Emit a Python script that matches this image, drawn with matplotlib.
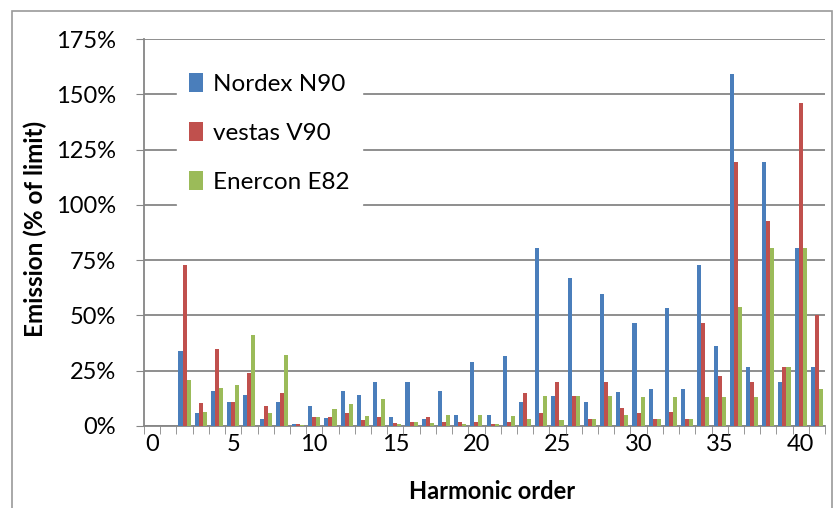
#!/usr/bin/env python3
"""Harmonic emission per turbine type, as % of the limit."""

import matplotlib
matplotlib.use("Agg")
import matplotlib.pyplot as plt
import numpy as np
from matplotlib.patches import Rectangle

plt.rcParams["font.family"] = ["Lato", "DejaVu Sans"]

HARMONICS = list(range(0, 42))
SERIES = ["Nordex N90", "vestas V90", "Enercon E82"]
COLORS = ["#4A7EBB", "#C0504D", "#9BBB59"]

NORDEX = [0, 0, 34, 6, 16, 11, 14, 3, 11, 0.8, 9, 3.5, 16, 14, 20, 4.2, 20, 3, 16, 4.8,
          29, 5, 31.6, 11, 80.5, 13.6, 67, 11, 59.7, 15.3, 46.5, 16.7, 53.5, 16.7, 73, 36,
          159, 26.8, 119.6, 20, 80.5, 26.8]
VESTAS = [0, 0, 73, 10.5, 35, 11, 24, 9, 15, 1, 4.2, 4, 6, 2.7, 4, 1.2, 2, 4, 2, 2,
          2, 1, 2, 15, 6, 20, 13.6, 3.3, 20, 8, 6, 3, 6.5, 3, 46.6, 22.8,
          119.6, 20, 92.9, 26.8, 146, 50]
ENERCON = [0, 0, 21, 6.3, 17, 18.5, 41, 6, 32, 0.5, 4, 7.6, 10, 4.5, 12, 1, 2, 1.5, 5, 1,
           5, 1, 4.6, 3, 13.6, 2.7, 13.6, 3, 13.6, 5, 13.3, 3, 13.3, 3, 13.3, 13.3,
           53.8, 13.3, 80.5, 26.8, 80.5, 16.7]

Y_TICKS = [0, 25, 50, 75, 100, 125, 150, 175]
X_LABELS = [0, 5, 10, 15, 20, 25, 30, 35, 40]

GRID = "#868686"


def main() -> None:
    fig = plt.figure(figsize=(8.37, 5.08), dpi=100)
    ax = fig.add_axes([144 / 837, 82 / 508, 681 / 837, 387 / 508])

    x = np.arange(len(HARMONICS))
    width = 0.25
    for i, (name, vals, color) in enumerate(zip(SERIES, [NORDEX, VESTAS, ENERCON], COLORS)):
        ax.bar(x + (i - 1) * width, vals, width=width, color=color, label=name, zorder=3)

    ax.set_xlim(-0.5, len(HARMONICS) - 0.5)
    ax.set_ylim(0, 175)
    ax.set_yticks(Y_TICKS)
    ax.set_yticklabels([f"{v}%" for v in Y_TICKS])
    ax.set_xticks(X_LABELS)
    ax.set_xticklabels([str(v) for v in X_LABELS])
    ax.set_xticks(np.arange(-0.5, len(HARMONICS)), minor=True)
    ax.tick_params(axis="x", which="major", length=0, pad=6, labelsize=17)
    ax.tick_params(axis="x", which="minor", length=6, color=GRID, direction="out")
    ax.tick_params(axis="y", length=6, color=GRID, labelsize=17, pad=14)

    ax.grid(axis="y", color=GRID, linewidth=1.3, zorder=0)
    for side in ("top", "right"):
        ax.spines[side].set_visible(False)
    for side in ("left", "bottom"):
        ax.spines[side].set_color(GRID)
        ax.spines[side].set_linewidth(1.3)

    ax.set_xlabel("Harmonic order", fontsize=17, fontweight="bold")
    ax.set_ylabel("Emission (% of limit)", fontsize=17.5, fontweight="bold")
    ax.xaxis.set_label_coords(0.511, -0.14)
    ax.yaxis.set_label_coords(-0.143, 0.51)

    leg = ax.legend(loc="upper left", bbox_to_anchor=(0.03, 0.975), frameon=True,
                    fontsize=17.5, handlelength=0.6, handleheight=0.85, handletextpad=0.4,
                    labelspacing=1.1, borderpad=0.5, fancybox=False)
    leg.get_frame().set_facecolor("white")
    leg.get_frame().set_edgecolor("white")
    leg.get_frame().set_alpha(1)
    leg.set_zorder(5)

    fig.patches.append(Rectangle((12 / 837, -0.02), 820 / 837, 1 - 11 / 508 + 0.02,
                                 transform=fig.transFigure, fill=False,
                                 edgecolor="#9a9a9a", linewidth=1.2))

    fig.savefig("out.png", dpi=100)
    plt.close(fig)


if __name__ == "__main__":
    main()
